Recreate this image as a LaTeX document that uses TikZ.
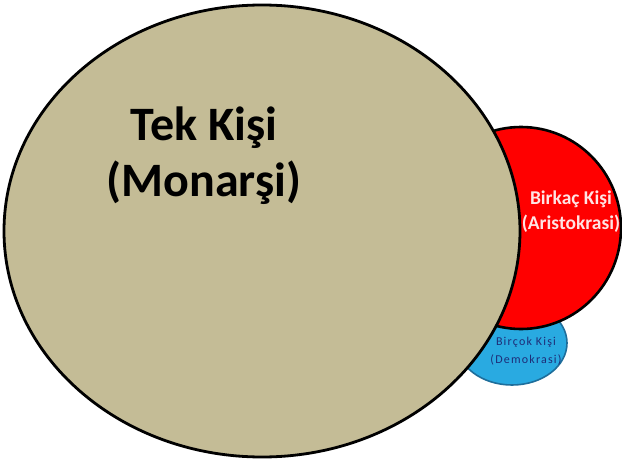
\documentclass[tikz,border=0pt]{standalone}
\usepackage{fontspec}
\setmainfont{Carlito}
\usetikzlibrary{shapes.geometric}
\definecolor{tan}{RGB}{196,188,150}
\definecolor{aristo}{RGB}{255,0,0}
\definecolor{demo}{RGB}{41,170,225}
\definecolor{demoline}{RGB}{30,110,155}
\definecolor{demotext}{RGB}{30,45,120}
\definecolor{pinktext}{RGB}{255,228,228}
\tikzset{
  blob/.style={shape=ellipse, inner sep=0pt, outer sep=0pt},
  lbl/.style={align=center, inner sep=0pt, font=\bfseries}
}
\begin{document}
\begin{tikzpicture}[x=1pt,y=-1pt]
\useasboundingbox (0,0) rectangle (622,460);
\node[blob, fill=demo, draw=demoline, line width=1.6pt, minimum width=110pt, minimum height=84pt] (demo) at (512,343) {};
\node[blob, fill=aristo, draw=black, line width=2.6pt, minimum width=200pt, minimum height=202pt] (aristo) at (521,228) {};
\node[blob, fill=tan, draw=black, line width=2.8pt, minimum width=516pt, minimum height=452pt] (mono) at (262,231) {};
\node[lbl, font=\fontsize{48}{56}\selectfont\bfseries, text=black] (tmono) at (204,156) {Tek Kişi\\(Monarşi)};
\node[lbl, font=\fontsize{19.5}{25}\selectfont\bfseries, text=pinktext] (taristo) at (571,212) {Birkaç Kişi\\(Aristokrasi)};
\node[lbl, font=\fontsize{12}{18}\selectfont\addfontfeature{LetterSpace=10}, text=demotext] (tdemo) at (526,351) {Birçok Kişi\\(Demokrasi)};
\end{tikzpicture}
\end{document}
